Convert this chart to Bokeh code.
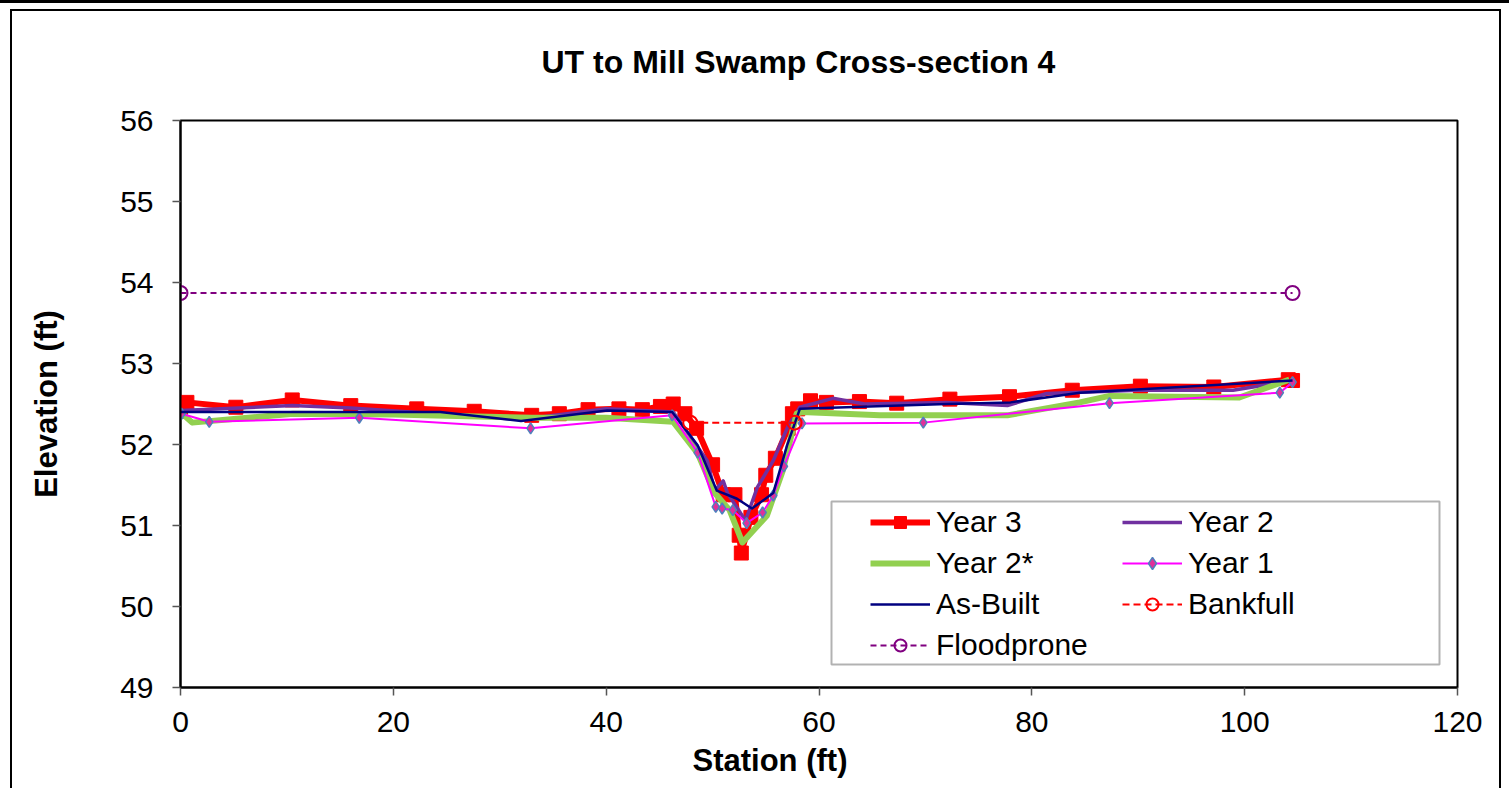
import math
from bokeh.plotting import figure
from bokeh.models import Range1d, FixedTicker, Legend, LegendItem, Title, BoxAnnotation
from bokeh.embed import file_html
from bokeh.resources import INLINE

title_text = "UT to Mill Swamp Cross-section 4"
x_label = "Station (ft)"
y_label = "Elevation (ft)"
x_ticks = [0, 20, 40, 60, 80, 100, 120]
y_ticks = [49, 50, 51, 52, 53, 54, 55, 56]

year3_st = [0, 0.6, 5.2, 10.5, 16.0, 22.2, 27.6, 33.0, 35.6, 38.3, 41.2, 43.4, 45.1, 46.3, 47.4,
            48.5, 50.0, 51.0, 52.1, 52.5, 52.7, 53.6, 54.6, 55.0, 55.9, 57.1, 57.5, 58.0, 59.2,
            60.7, 63.8, 67.3, 72.3, 77.9, 83.8, 90.2, 97.1, 104.1, 104.5]
year3_el = [52.41, 52.52, 52.46, 52.55, 52.48, 52.44, 52.41, 52.36, 52.38, 52.43, 52.44, 52.43,
            52.47, 52.5, 52.38, 52.2, 51.75, 51.38, 51.38, 50.88, 50.66, 51.1, 51.38, 51.62, 51.83,
            52.2, 52.38, 52.44, 52.54, 52.52, 52.53, 52.51, 52.56, 52.59, 52.67, 52.72, 52.71,
            52.8, 52.79]

year2_st = [0, 10.5, 16.0, 32.0, 40.0, 46.3, 49.5, 50.2, 51.0, 51.4, 53.1, 54.2, 55.7, 57.1,
            58.2, 61.3, 64.3, 72.0, 77.7, 81.4, 90.0, 98.9, 104.5]
year2_el = [52.42, 52.48, 52.45, 52.31, 52.44, 52.4, 51.8, 51.43, 51.55, 51.4, 51.06, 51.47,
            51.8, 52.23, 52.46, 52.57, 52.5, 52.52, 52.48, 52.63, 52.67, 52.67, 52.79]

year2s_st = [0, 1.1, 10.6, 20.0, 33.0, 40.0, 46.3, 48.6, 50.2, 51.6, 52.8, 55.1, 56.6, 57.9,
             58.4, 65.7, 77.7, 84.5, 87.3, 99.5, 104.2]
year2s_el = [52.4, 52.27, 52.38, 52.37, 52.33, 52.33, 52.28, 51.89, 51.4, 51.19, 50.79, 51.12,
             51.68, 52.38, 52.4, 52.36, 52.36, 52.52, 52.6, 52.58, 52.8]

year1_st = [0.1, 2.7, 16.8, 32.9, 46.2, 48.6, 50.3, 50.9, 51.9, 53.2, 54.7, 55.7, 56.7, 58.4,
            69.8, 87.3, 103.3, 104.5]
year1_el = [52.38, 52.28, 52.33, 52.2, 52.36, 51.9, 51.23, 51.21, 51.19, 51.03, 51.16, 51.37,
            51.73, 52.26, 52.27, 52.51, 52.64, 52.77]

asbuilt_st = [0, 15.0, 24.4, 32.0, 40.1, 46.2, 48.6, 50.4, 52.3, 53.7, 55.7, 57.0, 58.2, 72.0,
              78.0, 84.5, 104.5]
asbuilt_el = [52.4, 52.4, 52.4, 52.29, 52.42, 52.4, 51.99, 51.43, 51.33, 51.21, 51.4, 51.99,
              52.44, 52.5, 52.52, 52.64, 52.79]

bankfull_st = [47.9, 57.7]
bankfull_el = [52.27, 52.27]

floodprone_st = [0, 104.5]
floodprone_el = [53.87, 53.87]

FONT = "Liberation Sans"
W, H = 1509, 788

p = figure(width=W, height=H, output_backend="svg", toolbar_location=None,
           x_range=Range1d(0, 120), y_range=Range1d(49, 56),
           min_border_left=180, min_border_right=W - 1457, min_border_top=120,
           min_border_bottom=H - 687)
# chart-area border (left, top, right) and the dark bar at the very top, painted
# behind a transparent canvas border
p.styles = {
    "background-color": "white",
    "background-image": ", ".join(["linear-gradient(black, black)"] * 4),
    "background-size": "100% 3px, 2px 100%, 1490px 2px, 2px 100%",
    "background-position": "0px 0px, 10px 9px, 10px 9px, 1499px 9px",
    "background-repeat": "no-repeat",
}
p.grid.visible = False
p.outline_line_color = "black"
p.outline_line_width = 2
p.background_fill_color = "white"
p.border_fill_color = None

p.title.text = title_text
p.title.align = "left"
p.title.offset = 361
p.title.text_font = FONT
p.title.text_font_size = "32px"
p.title.text_font_style = "bold"
p.title.text_color = "black"
p.title.standoff = 82

for ax in (p.xaxis[0], p.yaxis[0]):
    ax.axis_line_color = "black"
    ax.axis_line_width = 2
    ax.major_tick_in = 0
    ax.major_tick_out = 8
    ax.major_tick_line_color = "#555555"
    ax.major_tick_line_width = 1.5
    ax.minor_tick_line_color = None
    ax.major_label_text_font = FONT
    ax.major_label_text_font_size = "30px"
    ax.major_label_text_color = "black"
p.xaxis.ticker = FixedTicker(ticks=x_ticks)
p.yaxis.ticker = FixedTicker(ticks=y_ticks)
p.xaxis.major_label_standoff = 16
p.yaxis.major_label_standoff = 19
p.yaxis.axis_label = y_label
p.yaxis.axis_label_text_font = FONT
p.yaxis.axis_label_text_font_size = "31px"
p.yaxis.axis_label_text_font_style = "bold"
p.yaxis.axis_label_text_color = "black"
p.yaxis.axis_label_standoff = 53

p.add_layout(Title(text=x_label, align="left", offset=512, vertical_align="top", standoff=17,
                   text_font=FONT, text_font_size="31px", text_font_style="bold",
                   text_color="black"), "below")

r3l = p.line(year3_st, year3_el, line_color="#ff0000", line_width=6, line_join="round")
r3m = p.scatter(year3_st, year3_el, marker="square", size=14, fill_color="#ff0000", line_color="#ff0000")
r2 = p.line(year2_st, year2_el, line_color="#7030a0", line_width=3.5, line_join="round")
r2s = p.line(year2s_st, year2s_el, line_color="#92d050", line_width=6, line_join="round")
r1l = p.line(year1_st, year1_el, line_color="#ff00ff", line_width=2, line_join="round")
r1m = p.scatter(year1_st, year1_el, marker="diamond", size=11,
                fill_color="#e0309a", line_color="#4f81bd", line_width=1.5)
rab = p.line(asbuilt_st, asbuilt_el, line_color="#000080", line_width=2.5, line_join="round")
rbl = p.line(bankfull_st, bankfull_el, line_color="#ff0000", line_width=2, line_dash="7 4")
rbm = p.scatter(bankfull_st, bankfull_el, marker="circle", size=14, fill_color=None,
                line_color="#ff0000", line_width=2)
rfl = p.line(floodprone_st, floodprone_el, line_color="#800080", line_width=2, line_dash="6 4")
rfm = p.scatter(floodprone_st, floodprone_el, marker="circle", size=14, fill_color=None,
                line_color="#800080", line_width=2)

box = BoxAnnotation(left=651, right=1259, top=186, bottom=23,
                    left_units="screen", right_units="screen", top_units="screen", bottom_units="screen",
                    fill_color="white", fill_alpha=1.0, line_color="black", line_width=2)
p.add_layout(box)

legend = Legend(items=[
    LegendItem(label="Year 3", renderers=[r3l, r3m]),
    LegendItem(label="Year 2", renderers=[r2]),
    LegendItem(label="Year 2*", renderers=[r2s]),
    LegendItem(label="Year 1", renderers=[r1l, r1m]),
    LegendItem(label="As-Built", renderers=[rab]),
    LegendItem(label="Bankfull", renderers=[rbl, rbm]),
    LegendItem(label="Floodprone", renderers=[rfl, rfm]),
], location=(690, 25), orientation="horizontal", ncols=2, padding=0, spacing=7,
    glyph_width=60, glyph_height=30, label_height=30, label_width=179, label_standoff=6,
    border_line_color=None, background_fill_alpha=0, margin=0,
    label_text_font=FONT, label_text_font_size="30px", label_text_color="black")
p.add_layout(legend)

open("out.html", "w").write(file_html(p, INLINE))
